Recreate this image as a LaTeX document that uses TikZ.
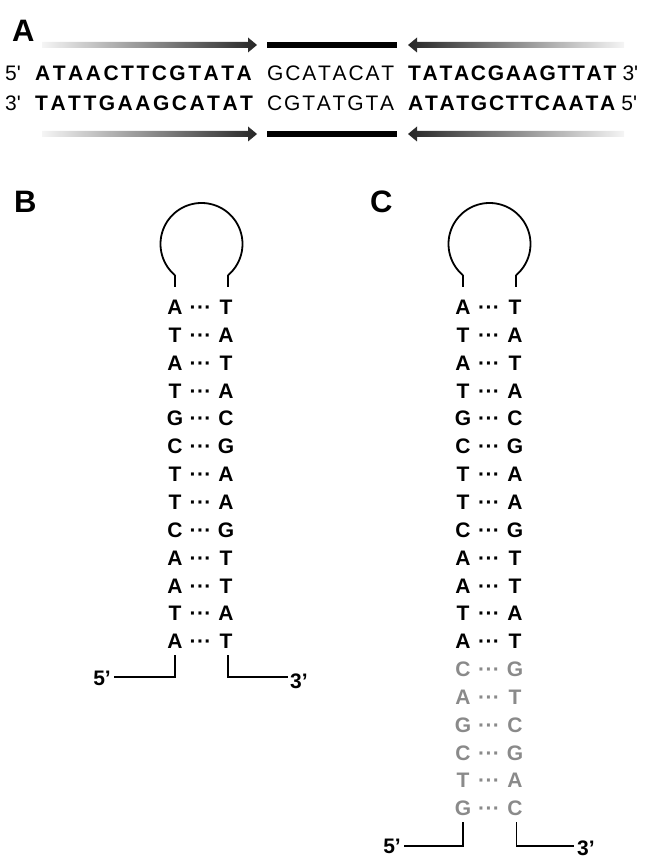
\documentclass[tikz,border=0pt]{standalone}
\usepackage{fontspec}
\setmainfont{Liberation Sans}
\newfontfamily\af{Liberation Sans}
\makeatletter
\newcommand\trk[2]{\def\trk@k{#1}\trk@go#2\@nil}
\def\trk@go#1{\ifx#1\@nil\else#1\kern\trk@k\expandafter\trk@go\fi}
\makeatother
\definecolor{ltgray}{HTML}{8A8A8A}
\tikzset{
  seqb/.style={inner sep=0pt, anchor=base west, font=\af\fontsize{21}{21}\selectfont\bfseries},
  seqr/.style={inner sep=0pt, anchor=base west, font=\af\fontsize{21}{21}\selectfont},
  plabel/.style={inner sep=0pt, anchor=base west, font=\fontsize{31}{31}\selectfont\bfseries},
  base/.style={inner sep=0pt, anchor=base, font=\fontsize{21}{21}\selectfont\bfseries},
  stemline/.style={line width=1.8pt},
  bar/.style={fill=black},
}
\newcommand\rarr[3]{\shade[left color=black!4, right color=black!85]
  (#1,#3-3) -- (#2-9,#3-3) -- (#2-9,#3-7.5) -- (#2,#3) -- (#2-9,#3+7.5) -- (#2-9,#3+3) -- (#1,#3+3) -- cycle;}
\newcommand\larr[3]{\shade[left color=black!85, right color=black!4]
  (#2,#3-3) -- (#1+9,#3-3) -- (#1+9,#3-7.5) -- (#1,#3) -- (#1+9,#3+7.5) -- (#1+9,#3+3) -- (#2,#3+3) -- cycle;}
\newcommand\dts{·\kern0.4pt·\kern0.4pt·}
\begin{document}
\begin{tikzpicture}[x=1pt,y=-1pt]
\useasboundingbox (0,0) rectangle (646,858);
% ---------- Panel A
\node[plabel] (labA) at (12,42) {A};
\rarr{42}{257}{45}
\fill[bar] (267,42) rectangle (397,48.5);
\larr{408}{624}{45}
\rarr{42}{257}{134}
\fill[bar] (267,131) rectangle (397,137.5);
\larr{408}{624}{134}

\node[seqr] (a5) at (5,81) {5'};
\node[seqb] (s1) at (35,81) {\trk{2.5pt}{ATAACTTCGTATA}};
\node[seqr] (s2) at (267,81) {\trk{1.8pt}{GCATACAT}};
\node[seqb] (s3) at (408,81) {\trk{1.7pt}{TATACGAAGTTAT}};
\node[seqr, anchor=base west] (a3) at ([xshift=4pt]s3.base east) {3'};

\node[seqr] (b3) at (5,111) {3'};
\node[seqb] (t1) at (35,111) {\trk{2.5pt}{TATTGAAGCATAT}};
\node[seqr] (t2) at (267,111) {\trk{1.8pt}{CGTATGTA}};
\node[seqb] (t3) at (408,111) {\trk{1.7pt}{ATATGCTTCAATA}};
\node[seqr, anchor=base west] (b5) at ([xshift=4pt]t3.base east) {5'};

% ---------- Panel B
\node[plabel] (labB) at (14,213) {B};
\draw[stemline] plot[smooth, domain=130.3:409.7, samples=90] ({201.5+41*cos(\x)},{244+41*sin(\x)});
\draw[stemline] (175,275.3) -- (175,287);
\draw[stemline] (228,275.3) -- (228,287);
\foreach \l/\r [count=\i] in {A/T,T/A,A/T,T/A,G/C,C/G,T/A,T/A,C/G,A/T,A/T,T/A,A/T}{
  \pgfmathsetmacro\yy{307+27.85*(\i-1)+7.5}
  \node[base] (bl\i) at (175,\yy) {\l};
  \node[base] (bd\i) at (200.5,\yy) {\dts};
  \node[base] (br\i) at (226,\yy) {\r};
}
\coordinate (bLa) at (175,655);
\coordinate (bLb) at (175,677);
\coordinate (bLc) at (114,677);
\coordinate (bRa) at (228,655);
\coordinate (bRb) at (228,677);
\coordinate (bRc) at (288,677);
\draw[stemline] (bLa) -- (bLb) -- (bLc);
\draw[stemline] (bRa) -- (bRb) -- (bRc);
\node[base, anchor=base east] (b5p) at (111,685) {5’};
\node[base, anchor=base west] (b3p) at (290,688) {3’};

% ---------- Panel C
\node[plabel] (labC) at (370,213) {C};
\draw[stemline] plot[smooth, domain=130.3:409.7, samples=90] ({489.5+41*cos(\x)},{244+41*sin(\x)});
\draw[stemline] (463,275.3) -- (463,287);
\draw[stemline] (516,275.3) -- (516,287);
\foreach \l/\r [count=\i] in {A/T,T/A,A/T,T/A,G/C,C/G,T/A,T/A,C/G,A/T,A/T,T/A,A/T}{
  \pgfmathsetmacro\yy{307+27.85*(\i-1)+7.5}
  \node[base] (cl\i) at (463,\yy) {\l};
  \node[base] (cd\i) at (489,\yy) {\dts};
  \node[base] (cr\i) at (515,\yy) {\r};
}
\foreach \l/\r [count=\i from 14] in {C/G,A/T,G/C,C/G,T/A,G/C}{
  \pgfmathsetmacro\yy{307+27.85*(\i-1)+7.5}
  \node[base, text=ltgray] (cl\i) at (463,\yy) {\l};
  \node[base, text=ltgray] (cd\i) at (489,\yy) {\dts};
  \node[base, text=ltgray] (cr\i) at (515,\yy) {\r};
}
\coordinate (cLa) at (463,822);
\coordinate (cLb) at (463,846);
\coordinate (cLc) at (404,846);
\coordinate (cRa) at (516.5,822);
\coordinate (cRb) at (516.5,846);
\coordinate (cRc) at (574,846);
\draw[stemline] (cLa) -- (cLb) -- (cLc);
\draw[stemline] (cRa) -- (cRb) -- (cRc);
\node[base, anchor=base east] (c5p) at (401,853) {5’};
\node[base, anchor=base west] (c3p) at (577,855) {3’};
\end{tikzpicture}
\end{document}
